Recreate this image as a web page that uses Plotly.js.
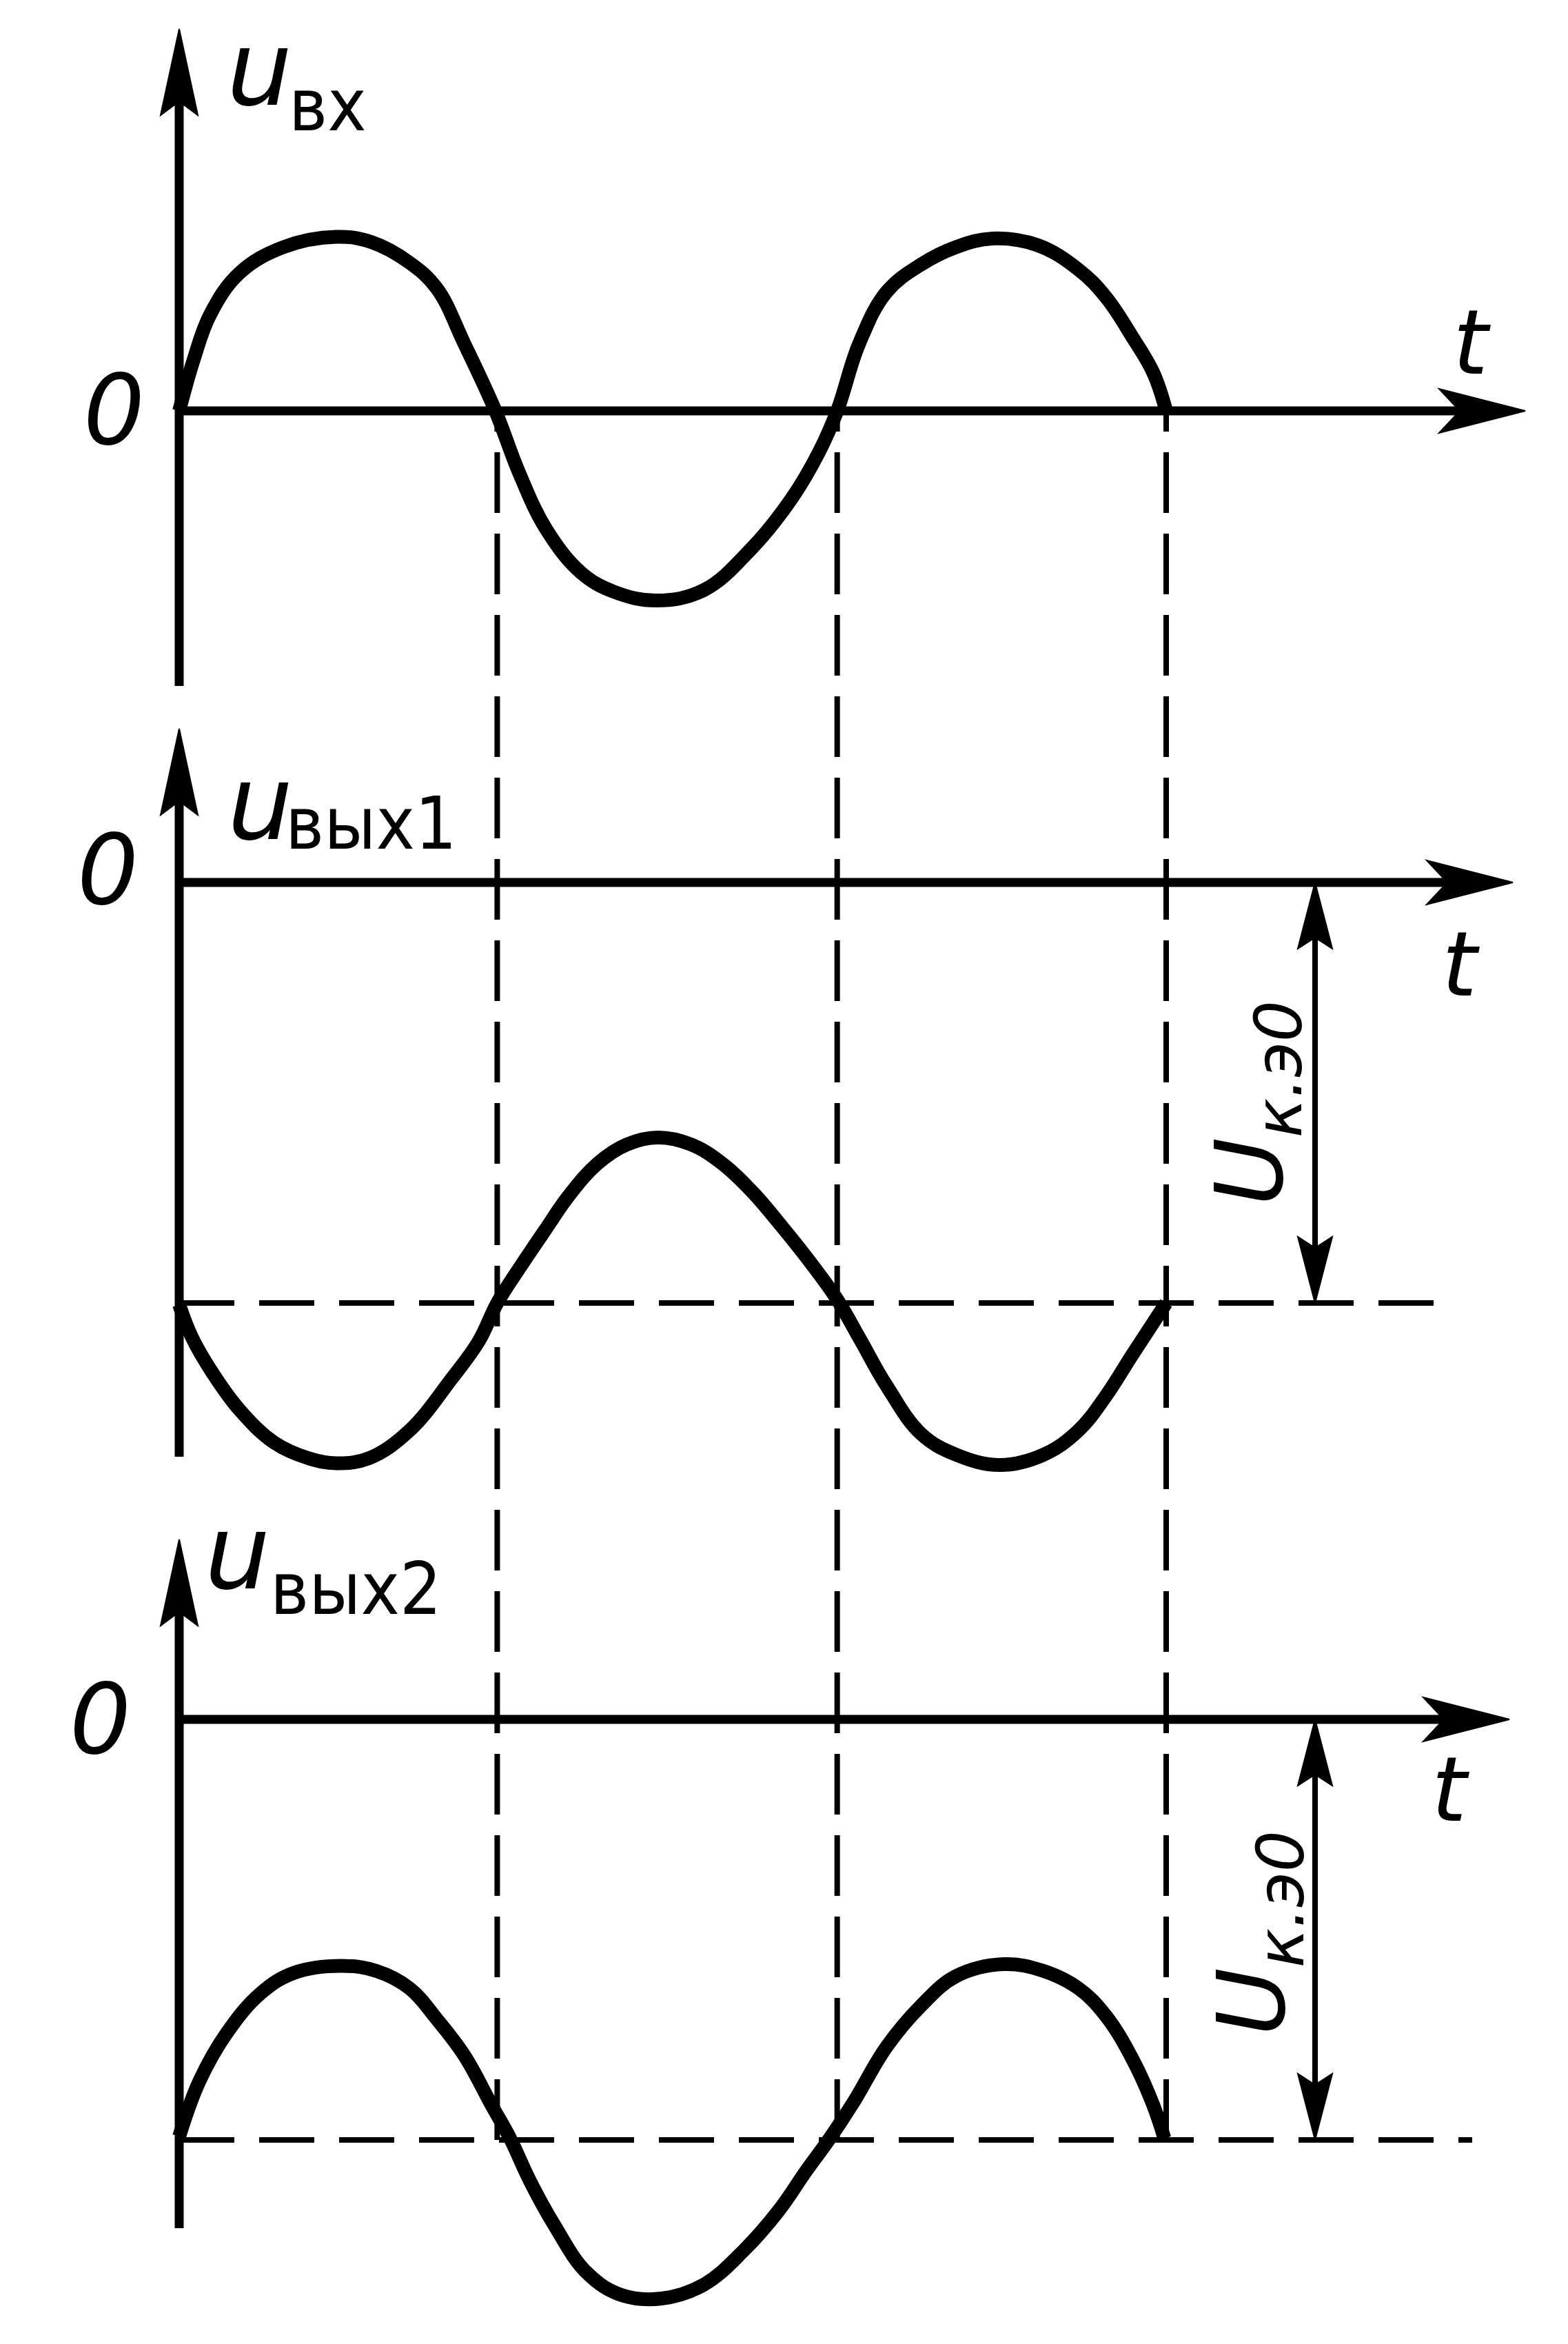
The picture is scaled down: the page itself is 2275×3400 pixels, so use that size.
<!DOCTYPE html>
<html>
<head>
<meta charset="utf-8">
<script src="https://cdn.plot.ly/plotly-3.0.1.min.js"></script>
<style>html,body{margin:0;padding:0;background:#fff;}</style>
</head>
<body>
<div id="chart" style="width:2275px;height:3400px;"></div>
<script>
// ---------------- DATA (phase t in degrees, voltages in relative units) ----------------
// input voltage u_вх
const t_in  = [0, 8, 17, 33, 57, 86, 105, 126, 141, 156, 173, 186, 201, 220, 238, 261, 287, 313, 335, 350, 360, 372, 387, 406, 425, 445, 470, 492, 507, 522, 533, 540];
const u_in  = [0, 0.30, 0.56, 0.80, 0.95, 1.01, 0.98, 0.86, 0.71, 0.39, 0, -0.36, -0.69, -0.94, -1.05, -1.10, -1.04, -0.80, -0.51, -0.24, 0, 0.39, 0.69, 0.85, 0.95, 1.00, 0.96, 0.82, 0.66, 0.42, 0.22, 0];
// output voltage u_вых1 (inverted)
const t_out1 = [0, 7, 18.5, 33, 52, 70.5, 86, 104, 126, 149, 164, 174, 186, 200, 213, 229, 245, 262, 280, 297, 314, 330, 345, 360, 372.5, 387, 406, 425, 449, 473, 492, 507, 521.5, 540];
const u_out1 = [-2.45, -2.64, -2.85, -3.06, -3.25, -3.34, -3.37, -3.34, -3.18, -2.88, -2.66, -2.44, -2.24, -2.02, -1.82, -1.63, -1.52, -1.48, -1.52, -1.63, -1.80, -2.00, -2.20, -2.42, -2.65, -2.92, -3.20, -3.32, -3.38, -3.32, -3.18, -2.98, -2.74, -2.44];
// output voltage u_вых2 (in phase)
const t_out2 = [0, 11, 26, 44.5, 63, 89, 108, 126, 141, 156, 171, 181, 192, 205, 223, 242, 264, 287, 309, 328, 343, 356, 369, 387, 406, 425, 451, 473, 492, 507, 522, 533, 539];
const u_out2 = [-2.42, -2.10, -1.82, -1.59, -1.47, -1.43, -1.46, -1.56, -1.74, -1.95, -2.24, -2.43, -2.68, -2.93, -3.21, -3.34, -3.36, -3.28, -3.08, -2.85, -2.62, -2.43, -2.22, -1.90, -1.66, -1.49, -1.42, -1.46, -1.56, -1.72, -1.98, -2.24, -2.43];
// zero-crossing moments marked with vertical dashed lines
const t_cross = [174, 360, 540];
// quiescent collector-emitter voltage U_к.э0
const U_ke0 = 2.44;
// texts
const signalNames = ['u', 'u', 'u'];
const signalSubs  = ['вх', 'вых1', 'вых2'];
const zeroLabel = '0';
const timeLabel = 't';
const ukeLabel  = 'U<sub>к.э0</sub>';

// ---------------- LAYOUT CONSTANTS (pixels) ----------------
const W = 2275, H = 3400;
const X0PX = 260;                       // pixel column of t = 0
const PXD = (1692 - 260) / 540;         // pixels per degree
const PXU = 250;                        // pixels per voltage unit
const panels = [
  {zero: 596,  top: 0,    bot: 1030, yTip: 42,   yBot: 995,  xTip: 2213, baseEnd: null, lbl: [327, 100], sub: [417, 152], zl: [165, 595],  tl: [2135, 497]},
  {zero: 1280, top: 1030, bot: 2190, yTip: 1057, yBot: 2113, xTip: 2195, baseEnd: 2104, lbl: [328, 1165], sub: [412, 1194], zl: [156, 1262], tl: [2119, 1399], ul: [1822, 1600]},
  {zero: 2494, top: 2190, bot: 3400, yTip: 2233, yBot: 3232, xTip: 2190, baseEnd: 2136, lbl: [295, 2252], sub: [390, 2304], zl: [145, 2494], tl: [2104, 2596], ul: [1825, 2804]}
];
const DBL_X = 1908;
const FONT = 'DejaVu Sans';
const NARROW = 'DejaVu Sans Condensed';

const pxT = px => (px - X0PX) / PXD;
const pxU = (i, py) => (panels[i].zero - py) / PXU;
const paperY = (i, u) => 1 - (panels[i].zero - u * PXU) / H;
const yName = i => i === 0 ? 'y' : 'y' + (i + 1);

// ---------------- TRACES ----------------
const series = [[t_in, u_in], [t_out1, u_out1], [t_out2, u_out2]];
const traces = series.map((s, i) => ({
  x: s[0], y: s[1], xaxis: 'x', yaxis: yName(i),
  type: 'scatter', mode: 'lines', cliponaxis: false,
  line: {color: '#000', width: 20, shape: 'spline', smoothing: 1.1},
  hoverinfo: 'skip', showlegend: false
}));

// ---------------- SHAPES ----------------
const shapes = [];
function seg(yref, x0, y0, x1, y1, width, dash) {
  shapes.push({type: 'line', xref: 'x', yref: yref, x0: x0, y0: y0, x1: x1, y1: y1,
    line: {color: '#000', width: width, dash: dash || 'solid'}, layer: 'below'});
}
function head(yref, tx, ty, dir, len, half, notch) {
  let pts;
  const dl = len / PXU, dn = notch / PXU, dh = half / PXD;
  if (dir === 'up') pts = [[tx, ty], [tx - dh, ty - dl], [tx, ty - dn], [tx + dh, ty - dl]];
  else if (dir === 'down') pts = [[tx, ty], [tx - dh, ty + dl], [tx, ty + dn], [tx + dh, ty + dl]];
  else {
    const Ll = len / PXD, Ln = notch / PXD, hh = half / PXU;
    pts = [[tx, ty], [tx - Ll, ty + hh], [tx - Ln, ty], [tx - Ll, ty - hh]];
  }
  const path = 'M' + pts.map(p => p[0] + ',' + p[1]).join('L') + 'Z';
  shapes.push({type: 'path', xref: 'x', yref: yref, path: path, fillcolor: '#000',
    line: {color: '#000', width: 2}, layer: 'below'});
}

panels.forEach((p, i) => {
  const yr = yName(i);
  // vertical axis with arrow
  seg(yr, 0, pxU(i, p.yBot), 0, pxU(i, p.yTip + 100), 13);
  head(yr, 0, pxU(i, p.yTip), 'up', 125, 27, 105);
  // horizontal time axis with arrow
  seg(yr, 0, 0, pxT(p.xTip - 90), 0, 13);
  head(yr, pxT(p.xTip), 0, 'right', 125, 32, 95);
  // dashed quiescent level and U_к.э0 double arrow
  if (p.baseEnd) {
    seg(yr, 0, -U_ke0, pxT(p.baseEnd), -U_ke0, 8, '80px,36px');
    const xa = pxT(DBL_X);
    seg(yr, xa, -0.3, xa, -U_ke0 + 0.3, 8);
    head(yr, xa, 0, 'up', 96, 25, 80);
    head(yr, xa, -U_ke0, 'down', 96, 25, 80);
  }
});
// vertical dashed projection lines across all panels
t_cross.forEach(tc => {
  shapes.push({type: 'line', xref: 'x', yref: 'paper', x0: tc, x1: tc,
    y0: paperY(2, -U_ke0), y1: paperY(0, 0),
    line: {color: '#000', width: 8, dash: '88px,30px'}, layer: 'below'});
});

// ---------------- ANNOTATIONS ----------------
const ann = [];
function txt(i, px, py, text, size, opts) {
  ann.push(Object.assign({
    xref: 'x', yref: yName(i), x: pxT(px), y: pxU(i, py), text: text, showarrow: false,
    xanchor: 'center', yanchor: 'middle',
    font: {family: FONT, size: size, color: '#000', style: 'italic'}
  }, opts || {}));
}
panels.forEach((p, i) => {
  txt(i, p.lbl[0], p.lbl[1], signalNames[i], 150, {xanchor: 'left'});
  txt(i, p.sub[0], p.sub[1], signalSubs[i], 106, {xanchor: 'left',
    font: {family: NARROW, size: 106, color: '#000', style: 'normal'}});
  txt(i, p.zl[0], p.zl[1], zeroLabel, 140);
  txt(i, p.tl[0], p.tl[1], timeLabel, 130);
  if (p.ul) txt(i, p.ul[0], p.ul[1], ukeLabel, 135, {textangle: -90});
});

// ---------------- LAYOUT ----------------
const layout = {
  width: W, height: H, margin: {l: 0, r: 0, t: 0, b: 0},
  paper_bgcolor: '#fff', plot_bgcolor: 'rgba(0,0,0,0)', showlegend: false,
  xaxis: {domain: [0, 1], range: [pxT(0), pxT(W)], visible: false, fixedrange: true, anchor: 'y3'},
  shapes: shapes, annotations: ann
};
panels.forEach((p, i) => {
  const key = i === 0 ? 'yaxis' : 'yaxis' + (i + 1);
  layout[key] = {
    domain: [1 - p.bot / H, 1 - p.top / H],
    range: [pxU(i, p.bot), pxU(i, p.top)],
    visible: false, fixedrange: true, anchor: 'x'
  };
});

Plotly.newPlot('chart', traces, layout, {staticPlot: true, displayModeBar: false});
</script>
</body>
</html>
